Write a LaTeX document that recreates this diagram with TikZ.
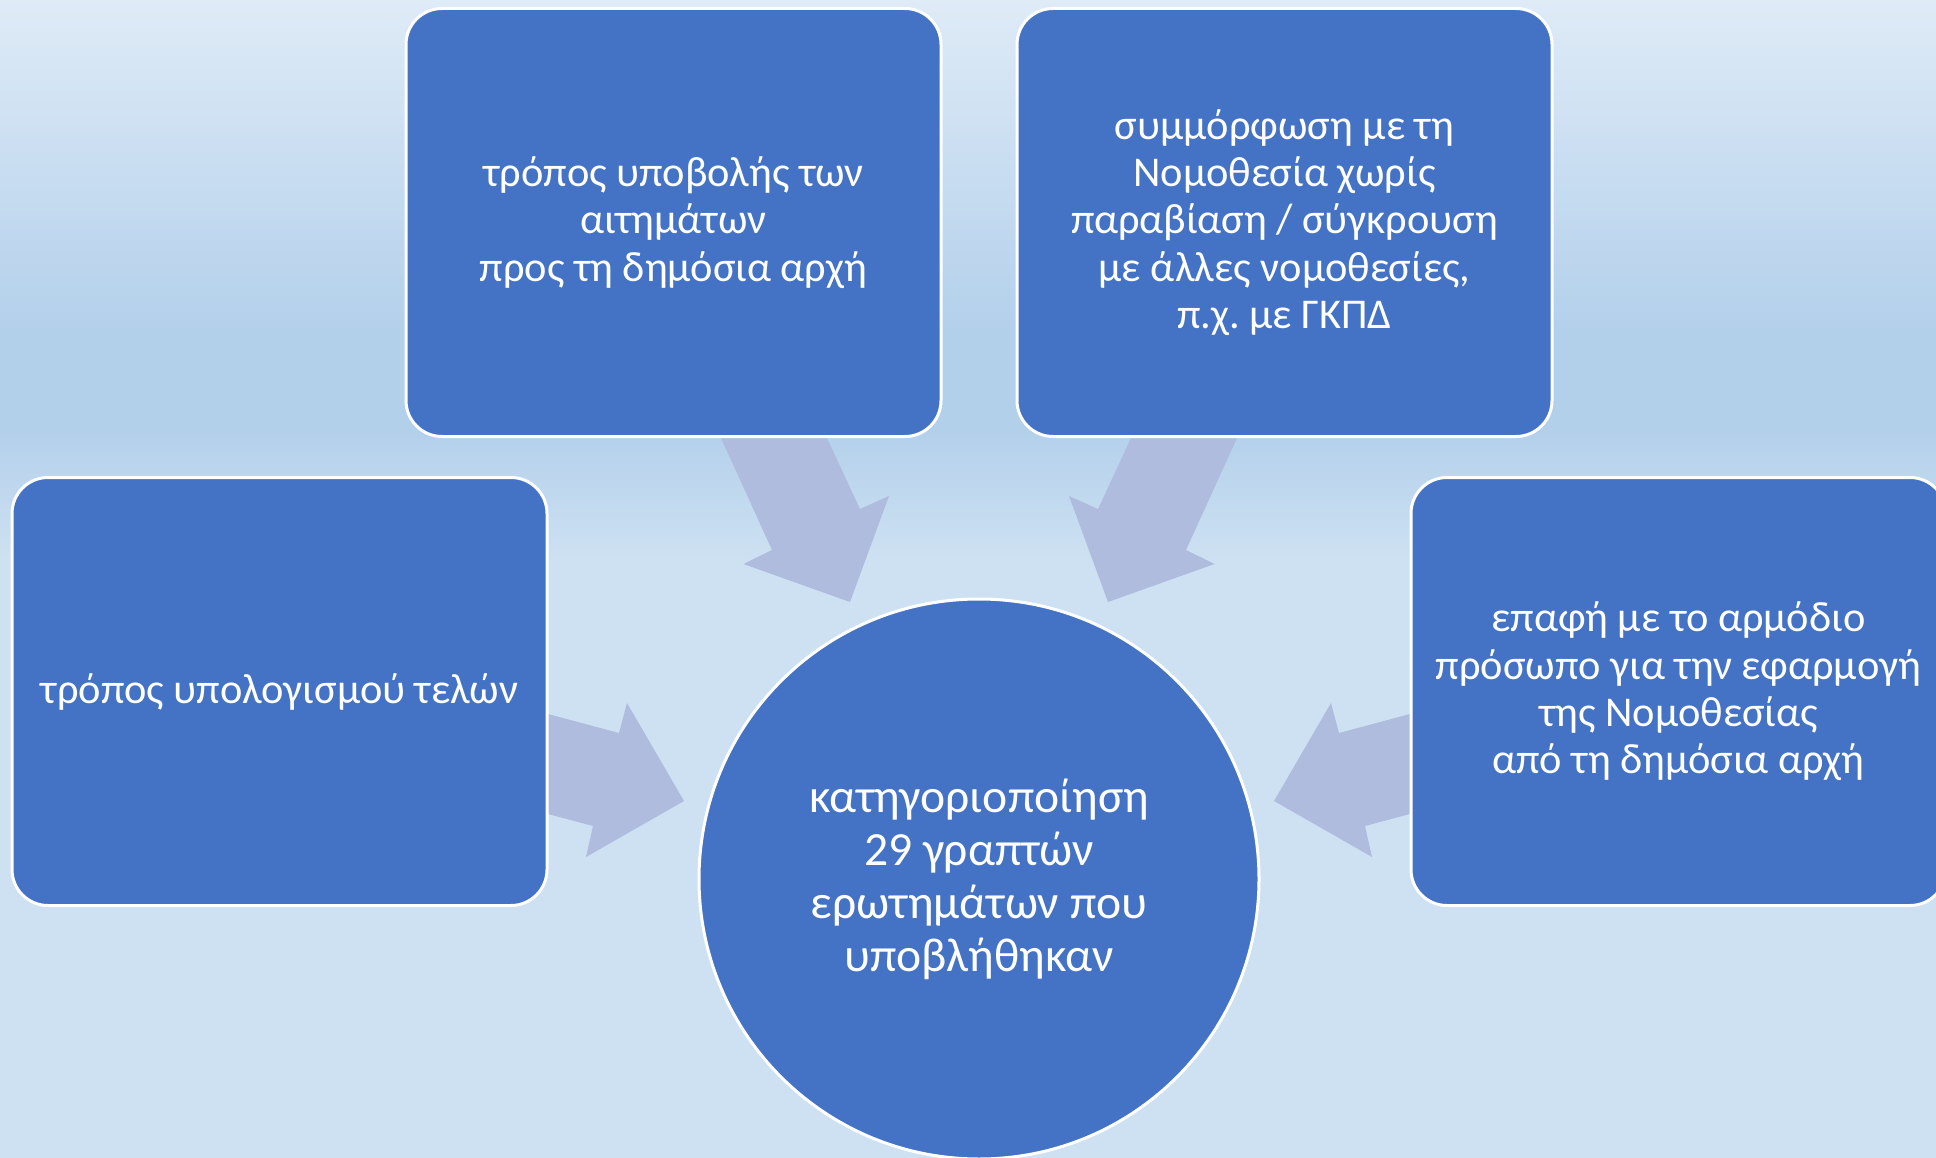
\documentclass[tikz,border=0pt]{standalone}
\usepackage{fontspec}
\setmainfont{Carlito}
\frenchspacing
\definecolor{boxblue}{HTML}{4472C4}
\definecolor{arrowblue}{HTML}{AFBCDE}
\definecolor{bgtop}{HTML}{DFEBF7}
\definecolor{bgdark}{HTML}{B3D0EB}
\definecolor{bglight}{HTML}{CEE1F2}
\tikzset{
  boxnode/.style={rectangle, rounded corners=36pt, draw=white, line width=3pt, fill=boxblue,
    minimum width=535pt, minimum height=428pt, inner sep=0pt, align=center, text=white,
    font=\fontsize{42.4}{47.4}\selectfont},
  circnode/.style={circle, draw=white, line width=3pt, fill=boxblue, minimum size=560pt,
    inner sep=0pt, align=center, text=white, font=\fontsize{47.6}{53}\selectfont},
  blockarrow/.style={fill=arrowblue, draw=none}
}
\begin{document}
\begin{tikzpicture}[x=1pt,y=-1pt]
\useasboundingbox (0,0) rectangle (1936,1158);
\clip (0,0) rectangle (1936,1158);
% background
\shade[top color=bgtop, bottom color=bgdark] (0,-1) rectangle (1936,330);
\fill[bgdark] (0,329) rectangle (1936,431);
\shade[top color=bgdark, bottom color=bglight] (0,430) rectangle (1936,561);
\fill[bglight] (0,560) rectangle (1936,1159);
% block arrows (drawn behind the boxes)
\fill[blockarrow] (712.8,420) -- (772,550) -- (743.5,564) -- (850,602) -- (889,496) -- (860,509) -- (818.6,420) -- cycle;
\fill[blockarrow] (1245.2,420) -- (1186,550) -- (1214.5,564) -- (1108,602) -- (1069,496) -- (1098,509) -- (1139.4,420) -- cycle;
\fill[blockarrow] (530,709.2) -- (619,733) -- (627,703) -- (684,801) -- (586,857) -- (593,826) -- (530,809.2) -- cycle;
\fill[blockarrow] (1428,709.2) -- (1339,733) -- (1331,703) -- (1274,801) -- (1372,857) -- (1365,826) -- (1428,809.2) -- cycle;
% nodes
\node[boxnode] (tl) at (673.5,222.5) {τρόπος υποβολής των\\αιτημάτων\\προς τη δημόσια αρχή};
\node[boxnode] (tr) at (1284.5,222.5) {συμμόρφωση με τη\\Νομοθεσία χωρίς\\παραβίαση / σύγκρουση\\με άλλες νομοθεσίες,\\π.χ. με ΓΚΠΔ};
\node[boxnode] (l) at (279.5,691.5) {τρόπος υπολογισμού τελών};
\node[boxnode] (r) at (1678.5,691.5) {επαφή με το αρμόδιο\\πρόσωπο για την εφαρμογή\\της Νομοθεσίας\\από τη δημόσια αρχή};
\node[circnode] (c) at (979,879) {κατηγοριοποίηση\\29 γραπτών\\ερωτημάτων που\\υποβλήθηκαν};
\end{tikzpicture}
\end{document}
